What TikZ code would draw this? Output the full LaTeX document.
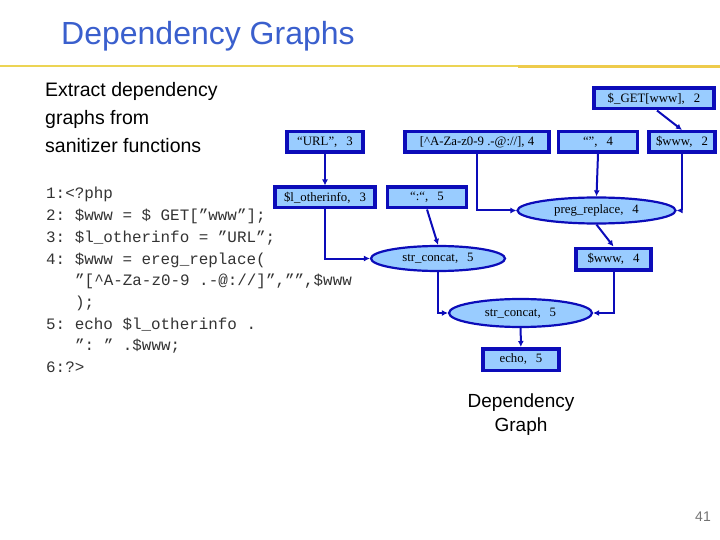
\documentclass[tikz,border=0pt]{standalone}
\usepackage{fontspec}
\setmainfont{Liberation Sans}
\newfontfamily\serifnode{Liberation Serif}
\newfontfamily\codefont{Liberation Mono}[WordSpace={1,0,0}]
\usetikzlibrary{shapes.geometric,arrows.meta}
\definecolor{titleblue}{RGB}{58,95,205}
\definecolor{nodefill}{RGB}{153,204,255}
\definecolor{nodeline}{RGB}{12,12,185}
\definecolor{goldline}{RGB}{236,212,84}
\tikzset{
  gbox/.style={rectangle, draw=nodeline, line width=3.5pt, fill=nodefill, inner sep=0pt,
    font=\serifnode\fontsize{12.8}{14}\selectfont, text=black},
  gell/.style={ellipse, draw=nodeline, line width=2.2pt, fill=nodefill, inner sep=0pt,
    font=\serifnode\fontsize{12.8}{14}\selectfont, text=black},
  dep/.style={draw=nodeline, line width=2pt, -{Latex[length=6pt,width=6pt]}},
  codeline/.style={anchor=base west, inner sep=0pt, font=\codefont\frenchspacing\fontsize{15.9}{18}\selectfont, text=black!80},
  bodytext/.style={anchor=base west, inner sep=0pt, font=\fontsize{19.5}{23}\selectfont, text=black}
}
\newcommand{\gsp}{\hspace{9pt}}
\begin{document}
\begin{tikzpicture}[x=1pt,y=-1pt]
\useasboundingbox (0,0) rectangle (720,540);
% title
\node[anchor=base west, inner sep=0pt, font=\fontsize{32}{36}\selectfont, text=titleblue] (title) at (61,45) {Dependency Graphs};
\draw[goldline, line width=2pt] (0,66.5) -- (518,66.5);
\draw[goldline!90!orange, line width=3pt] (518,66.5) -- (720,66.5);
% left text
\node[bodytext] (t1) at (45,96.5) {Extract dependency};
\node[bodytext] (t2) at (45,125) {graphs from};
\node[bodytext] (t3) at (45,153) {sanitizer functions};
% code
\node[codeline] (c1) at (46,199) {1:<?php};
\node[codeline] (c2) at (46,220.7) {2: \$www = \$ GET[”www”];};
\node[codeline] (c3) at (46,242.4) {3: \$l\_otherinfo = ”URL”;};
\node[codeline] (c4) at (46,264.1) {4: \$www = ereg\_replace(};
\node[codeline] (c5) at (75,285.8) {”[\textasciicircum A-Za-z0-9 .-@://]”,””,\$www};
\node[codeline] (c6) at (75,307.5) {);};
\node[codeline] (c7) at (46,329.2) {5: echo \$l\_otherinfo .};
\node[codeline] (c8) at (75,350.9) {”: ” .\$www;};
\node[codeline] (c9) at (46,372.6) {6:?>};
% graph nodes
\node[gbox, minimum width=120pt, minimum height=20.5pt] (get) at (654,98.5) {\$\_GET[www],\gsp 2};
\node[gbox, minimum width=76pt, minimum height=20.5pt] (url) at (325,142) {“URL”,\gsp 3};
\node[gbox, minimum width=144pt, minimum height=20.5pt] (rgx) at (477,142) {[\textasciicircum A-Za-z0-9 .-@://], 4};
\node[gbox, minimum width=79pt, minimum height=20.5pt] (emp) at (598,142) {“”,\gsp 4};
\node[gbox, minimum width=66pt, minimum height=20.5pt] (w2) at (682,142) {\$www,\gsp 2};
\node[gbox, minimum width=100pt, minimum height=20.5pt] (loth) at (325,197.5) {\$l\_otherinfo,\gsp 3};
\node[gbox, minimum width=79pt, minimum height=20.5pt] (col) at (427,197.5) {“:“,\gsp 5};
\node[gell, minimum width=158pt, minimum height=26pt] (preg) at (596.5,210.5) {preg\_replace,\gsp 4};
\node[gell, minimum width=134pt, minimum height=25pt] (sc1) at (438,258.5) {str\_concat,\gsp 5};
\node[gbox, minimum width=75pt, minimum height=21.5pt] (w4) at (613.5,259) {\$www,\gsp 4};
\node[gell, minimum width=143pt, minimum height=28pt] (sc2) at (520.5,313) {str\_concat,\gsp 5};
\node[gbox, minimum width=76pt, minimum height=21.5pt] (echo) at (521,359.5) {echo,\gsp 5};
% edges
\draw[dep] (get.south) ++(3,0) coordinate (g1) -- (w2.north);
\draw[dep] (url) -- (loth);
\draw[dep] (rgx.south) |- (preg.west);
\draw[dep] (emp.south) -- (preg.north);
\draw[dep] (w2.south) |- (preg.east);
\draw[dep] (preg.south) -- (w4.north);
\draw[dep] (loth.south) |- (sc1.west);
\draw[dep] (col.south) -- (sc1.north);
\draw[dep] (sc1.south) |- (sc2.west);
\draw[dep] (w4.south) |- (sc2.east);
\draw[dep] (sc2) -- (echo);
% caption
\node[anchor=base, inner sep=0pt, font=\fontsize{19}{23}\selectfont] (cap1) at (521,407) {Dependency};
\node[anchor=base, inner sep=0pt, font=\fontsize{19}{23}\selectfont] (cap2) at (521,431) {Graph};
\node[anchor=base, inner sep=0pt, font=\fontsize{14}{16}\selectfont, text=black!55] (pg) at (703,521) {41};
\end{tikzpicture}
\end{document}
